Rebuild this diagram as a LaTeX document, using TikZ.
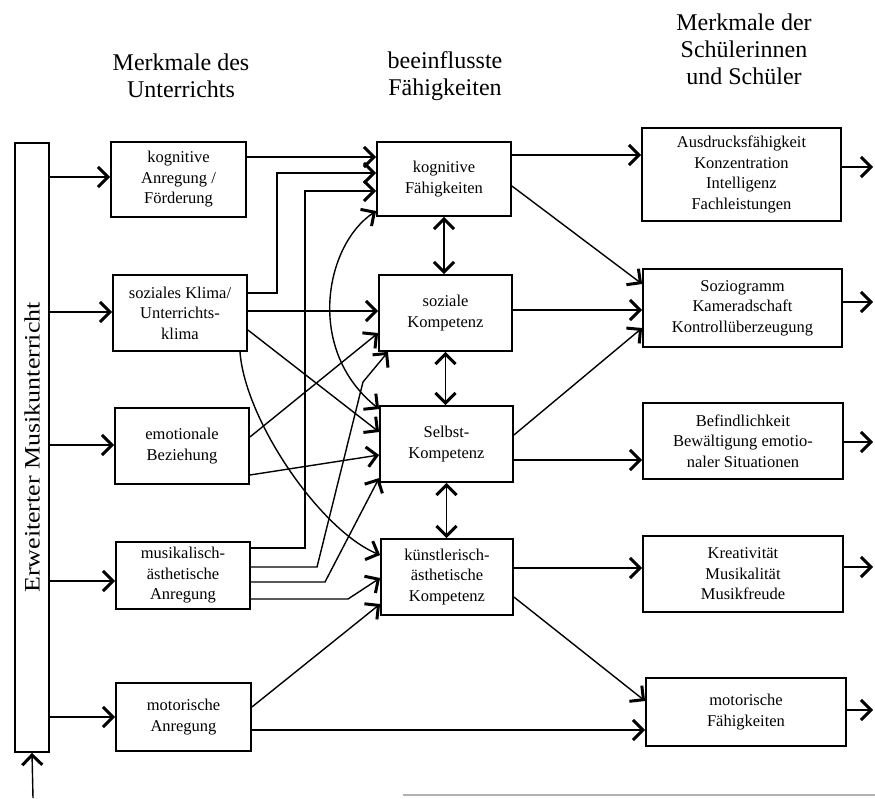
\documentclass[tikz,border=0pt]{standalone}
\usepackage{fontspec}
\setmainfont{Liberation Serif}
\usetikzlibrary{arrows.meta}
\begin{document}
\begin{tikzpicture}[x=1pt,y=-1pt,
  kbox/.style={draw, line width=1.8pt, inner sep=0pt, align=center, font=\fontsize{16.5}{20.5}\selectfont},
  hdr/.style={align=center, font=\fontsize{24}{27}\selectfont},
  tipb/.tip={Straight Barb[length=10pt,width=20pt,line width=3pt]},
  arr/.style={line width=1.4pt, -tipb},
  darr/.style={line width=1.4pt, tipb-tipb}]
\useasboundingbox (0,0) rectangle (875,798);

% headers
\node[hdr] (h1) at (181,76) {Merkmale des\\Unterrichts};
\node[hdr] (h2) at (445,76) {beeinflusste\\Fähigkeiten};
\node[hdr] (h3) at (744,49) {Merkmale der\\Schülerinnen\\und Schüler};

% left bar
\node[draw, line width=1.8pt, minimum width=34pt, minimum height=609pt, inner sep=0pt] (bar) at (32,447.5) {};
\node[rotate=90, font=\fontsize{22}{26}\selectfont] (barlbl) at (bar.center) {\scalebox{1.18}[1]{Erweiterter Musikunterricht}};

% column 1
\node[kbox, minimum width=135pt, minimum height=75pt] (kogA) at (178.5,179.5) {kognitive\\Anregung /\\Förderung};
\node[kbox, minimum width=134pt, minimum height=76pt] (sozKl) at (180,313) {soziales Klima/\\Unterrichts-\\klima};
\node[kbox, minimum width=134pt, minimum height=76pt] (emo) at (182,446) {emotionale\\Beziehung};
\node[kbox, minimum width=134pt, minimum height=67pt] (musik) at (183,575.5) {musikalisch-\\ästhetische\\Anregung};
\node[kbox, minimum width=135pt, minimum height=68pt] (motA) at (183.5,717) {motorische\\Anregung};

% column 2
\node[kbox, minimum width=134pt, minimum height=74pt] (kogF) at (444,179) {kognitive\\Fähigkeiten};
\node[kbox, minimum width=133pt, minimum height=76pt] (sozK) at (445.5,313) {soziale\\Kompetenz};
\node[kbox, minimum width=133pt, minimum height=76pt] (selbst) at (446.5,444) {Selbst-\\Kompetenz};
\node[kbox, minimum width=132pt, minimum height=76pt] (kuenst) at (447,577) {künstlerisch-\\ästhetische\\Kompetenz};

% column 3
\node[kbox, minimum width=199pt, minimum height=93pt] (ausd) at (741.5,174.5) {Ausdrucksfähigkeit\\Konzentration\\Intelligenz\\Fachleistungen};
\node[kbox, minimum width=199pt, minimum height=78pt] (sozio) at (742.5,308) {Soziogramm\\Kameradschaft\\Kontrollüberzeugung};
\node[kbox, minimum width=200pt, minimum height=76pt] (befind) at (743,441) {Befindlichkeit\\Bewältigung emotio-\\naler Situationen};
\node[kbox, minimum width=200pt, minimum height=76pt] (kreat) at (743,574) {Kreativität\\Musikalität\\Musikfreude};
\node[kbox, minimum width=200pt, minimum height=68pt] (motF) at (746,712) {motorische\\Fähigkeiten};

% free ends
\coordinate (bot) at (33,798);
\coordinate (o1) at (873,167);
\coordinate (o2) at (873,302);
\coordinate (o3) at (873,442);
\coordinate (o4) at (873,567);
\coordinate (o5) at (873,710);

% bar -> column 1
\draw[arr] (bot) -- (bar.south);
\draw[arr] (bar.east |- 0,177) -- (kogA.west |- 0,177);
\draw[arr] (bar.east |- 0,312) -- (sozKl.west |- 0,312);
\draw[arr] (bar.east |- 0,445) -- (emo.west |- 0,445);
\draw[arr] (bar.east |- 0,581) -- (musik.west |- 0,581);
\draw[arr] (bar.east |- 0,717) -- (motA.west |- 0,717);

% column 1 -> column 2
\draw[arr] (kogA.east |- 0,157) -- (kogF.west |- 0,157);
\draw[arr] (sozKl.east |- 0,293) -| (277,173) -- (kogF.west |- 0,173);
\draw[arr] (musik.east |- 0,548) -| (305,191) -- (kogF.west |- 0,191);
\draw[arr] (sozKl.east |- 0,311) -- (sozK.west |- 0,311);
\draw[arr] (sozKl.east |- 0,330) -- (selbst.west |- 0,432);
\draw[arr] (240,0 |- sozKl.south) .. controls (245,420) and (320,530) .. (kuenst.west |- 0,555);
\draw[arr] (emo.east |- 0,437) -- (sozK.west |- 0,333);
\draw[arr] (emo.east |- 0,475) -- (selbst.west |- 0,455);
\draw[arr] (musik.east |- 0,567) -- (317,567) -- (363,382) -- (388,0 |- sozK.south);
\draw[arr] (musik.east |- 0,582) -- (325,582) -- (selbst.west |- 0,478);
\draw[arr] (musik.east |- 0,599) -- (348,599) -- (kuenst.west |- 0,578);
\draw[arr] (motA.east |- 0,707) -- (kuenst.west |- 0,604);
\draw[arr] (motA.east |- 0,730) -- (motF.west |- 0,730);

% within column 2
\draw[darr] (kogF.west |- 0,211) .. controls (325,245) and (305,350) .. (selbst.west |- 0,409);
\draw[darr] (kogF.south) -- (kogF.south |- sozK.north);
\draw[darr] (sozK.south) -- (sozK.south |- selbst.north);
\draw[darr] (selbst.south) -- (selbst.south |- kuenst.north);

% column 2 -> column 3
\draw[arr] (kogF.east |- 0,155) -- (ausd.west |- 0,155);
\draw[arr] (kogF.east |- 0,186) -- (sozio.west |- 0,284);
\draw[arr] (sozK.east |- 0,310) -- (sozio.west |- 0,310);
\draw[arr] (selbst.east |- 0,435) -- (sozio.west |- 0,328);
\draw[arr] (selbst.east |- 0,460) -- (befind.west |- 0,460);
\draw[arr] (kuenst.east |- 0,568) -- (kreat.west |- 0,568);
\draw[arr] (kuenst.east |- 0,597) -- (motF.west |- 0,701);

% outputs
\draw[arr] (ausd.east |- o1) -- (o1);
\draw[arr] (sozio.east |- o2) -- (o2);
\draw[arr] (befind.east |- o3) -- (o3);
\draw[arr] (kreat.east |- o4) -- (o4);
\draw[arr] (motF.east |- o5) -- (o5);

% scan edge line at the bottom
\draw[gray!60, line width=1.5pt] (403,795) -- (875,795);
\end{tikzpicture}
\end{document}
